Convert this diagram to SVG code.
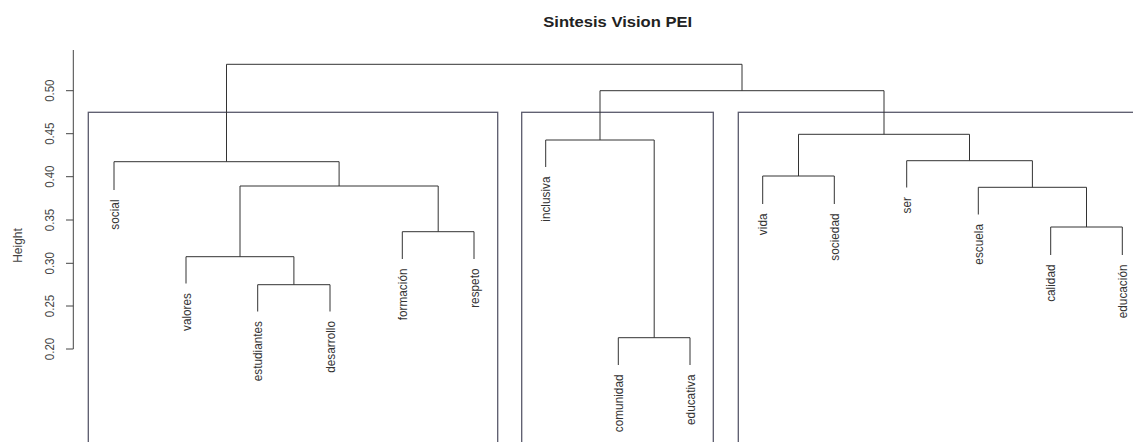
<svg xmlns="http://www.w3.org/2000/svg" width="1133" height="442" viewBox="0 0 1133 442">
  <style>
    .title { font-family: "Liberation Sans", Arial, sans-serif; font-weight: bold; font-size: 15.5px; fill: #222; }
    .axis { stroke: #444; stroke-width: 1; fill: none; }
    .tick { font-family: "Liberation Sans", Arial, sans-serif; font-size: 11.5px; fill: #444; text-anchor: middle; }
    .ylab { font-family: "Liberation Sans", Arial, sans-serif; font-size: 12px; fill: #444; text-anchor: middle; }
    .leaf { font-family: "Liberation Sans", Arial, sans-serif; font-size: 11.8px; fill: #333; text-anchor: end; }
    .branch { stroke: #333; stroke-width: 1; fill: none; }
    .box { stroke: #5a5a6c; stroke-width: 1.3; fill: none; }
  </style>
  <rect width="1133" height="442" fill="#ffffff"/>

  <!-- title -->
  <text class="title" transform="translate(617.7 27) scale(1.07 1)" text-anchor="middle">Sintesis Vision PEI</text>

  <!-- height axis -->
  <g id="axis">
    <path class="axis" d="M73.3 50 V349 M66 90.7 H73.3 M66 133.7 H73.3 M66 176.7 H73.3 M66 220 H73.3 M66 263.3 H73.3 M66 306 H73.3 M66 349 H73.3"/>
    <text class="tick" transform="translate(54 90.7) rotate(-90) scale(1 1.12)">0.50</text>
    <text class="tick" transform="translate(54 133.7) rotate(-90) scale(1 1.12)">0.45</text>
    <text class="tick" transform="translate(54 176.7) rotate(-90) scale(1 1.12)">0.40</text>
    <text class="tick" transform="translate(54 220) rotate(-90) scale(1 1.12)">0.35</text>
    <text class="tick" transform="translate(54 263.3) rotate(-90) scale(1 1.12)">0.30</text>
    <text class="tick" transform="translate(54 306) rotate(-90) scale(1 1.12)">0.25</text>
    <text class="tick" transform="translate(54 349) rotate(-90) scale(1 1.12)">0.20</text>
    <text class="ylab" transform="translate(22 245.5) rotate(-90) scale(1 1.12)">Height</text>
  </g>

  <!-- cluster boxes -->
  <g id="clusters">
    <rect class="box" x="88.3" y="112.3" width="409.4" height="340"/>
    <rect class="box" x="521.7" y="112.3" width="191.6" height="340"/>
    <rect class="box" x="738.3" y="112.3" width="420" height="340"/>
  </g>

  <!-- merges: left child top, up to merge height, across, down to right child top -->
  <g id="connectors">
    <path class="branch" d="M257.7 311.5 V284.7 H330 V311.5"/>
    <path class="branch" d="M186 283.5 V256.7 H293.9 V284.7"/>
    <path class="branch" d="M402.3 259 V231.7 H474 V259"/>
    <path class="branch" d="M240 256.7 V186 H438.2 V231.7"/>
    <path class="branch" d="M114 190 V161.7 H339.1 V186"/>
    <path class="branch" d="M618.3 365 V337.7 H690 V365"/>
    <path class="branch" d="M545.7 167 V140 H654.2 V337.7"/>
    <path class="branch" d="M762.7 204 V176 H834.3 V204"/>
    <path class="branch" d="M1050.7 255 V227 H1122.3 V255"/>
    <path class="branch" d="M978.3 214.5 V187.3 H1086.5 V227"/>
    <path class="branch" d="M906.7 187.5 V160.7 H1032.4 V187.3"/>
    <path class="branch" d="M798.5 176 V134.3 H969.5 V160.7"/>
    <path class="branch" d="M600 140 V90.7 H884 V134.3"/>
    <path class="branch" d="M226.5 161.7 V64.3 H742 V90.7"/>
  </g>

  <!-- leaves -->
  <g id="leaf-social"><text class="leaf" transform="translate(118.5 199.5) rotate(-90) scale(1 1.12)">social</text></g>
  <g id="leaf-valores"><text class="leaf" transform="translate(190.5 293) rotate(-90) scale(1 1.12)">valores</text></g>
  <g id="leaf-estudiantes"><text class="leaf" transform="translate(262.2 321) rotate(-90) scale(1 1.12)">estudiantes</text></g>
  <g id="leaf-desarrollo"><text class="leaf" transform="translate(334.5 321) rotate(-90) scale(1 1.12)">desarrollo</text></g>
  <g id="leaf-formacion"><text class="leaf" transform="translate(406.8 268.5) rotate(-90) scale(1 1.12)">formación</text></g>
  <g id="leaf-respeto"><text class="leaf" transform="translate(478.5 268.5) rotate(-90) scale(1 1.12)">respeto</text></g>
  <g id="leaf-inclusiva"><text class="leaf" transform="translate(550.2 176.5) rotate(-90) scale(1 1.12)">inclusiva</text></g>
  <g id="leaf-comunidad"><text class="leaf" transform="translate(622.8 374.5) rotate(-90) scale(1 1.12)">comunidad</text></g>
  <g id="leaf-educativa"><text class="leaf" transform="translate(694.5 374.5) rotate(-90) scale(1 1.12)">educativa</text></g>
  <g id="leaf-vida"><text class="leaf" transform="translate(767.2 213.5) rotate(-90) scale(1 1.12)">vida</text></g>
  <g id="leaf-sociedad"><text class="leaf" transform="translate(838.8 213.5) rotate(-90) scale(1 1.12)">sociedad</text></g>
  <g id="leaf-ser"><text class="leaf" transform="translate(911.2 197) rotate(-90) scale(1 1.12)">ser</text></g>
  <g id="leaf-escuela"><text class="leaf" transform="translate(982.8 224) rotate(-90) scale(1 1.12)">escuela</text></g>
  <g id="leaf-calidad"><text class="leaf" transform="translate(1055.2 264.5) rotate(-90) scale(1 1.12)">calidad</text></g>
  <g id="leaf-educacion"><text class="leaf" transform="translate(1126.8 264.5) rotate(-90) scale(1 1.12)">educación</text></g>
</svg>
